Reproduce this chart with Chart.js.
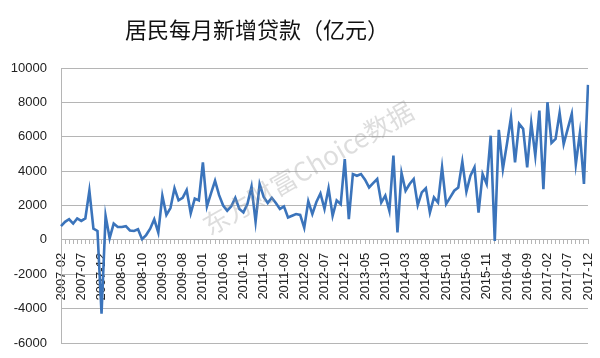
<!DOCTYPE html>
<html><head><meta charset="utf-8">
<script src="https://cdn.jsdelivr.net/npm/chart.js@4/dist/chart.umd.min.js"></script>
<style>html,body{margin:0;padding:0;background:#fff}#wrap{width:600px;height:358px;position:relative}</style>
</head><body><div id="wrap"><canvas id="c" width="600" height="358"></canvas></div>
<script>
const titleText = '居民每月新增贷款（亿元）';
const watermarkText = '东方财富Choice数据';
const startYear = 2007, startMonth = 2, monthCount = 131;
const months = [];
for (let k = 0; k < monthCount; k++) {
  const m = startMonth - 1 + k;
  const y = startYear + Math.floor(m / 12);
  const mm = (m % 12) + 1;
  months.push(y + '-' + (mm < 10 ? '0' + mm : '' + mm));
}
const labelEvery = 5;
const loans = [
  800, 1050, 1200, 950, 1250, 1100, 1250, 2860, 650, 520,
  -4300, 1400, 100, 950, 750, 750, 800, 550, 520, 620,
  40, 280, 650, 1200, 430, 2570, 1450, 1850, 3000, 2300,
  2450, 2900, 1550, 2400, 2300, 4510, 1950, 2700, 3440, 2600,
  2000, 1700, 1950, 2450, 1800, 1600, 2100, 3100, 1050, 3250,
  2500, 2150, 2450, 2150, 1800, 1950, 1300, 1400, 1500, 1450,
  700, 2250, 1500, 2200, 2700, 1800, 3000, 1400, 2300, 2080,
  4700, 1200, 3830, 3730, 3830, 3500, 3050, 3300, 3540, 2170,
  2570, 1690, 4900, 430, 3900, 2860, 3250, 3540, 2020, 2760,
  3000, 1590, 2470, 2170, 4220, 2080, 2470, 2860, 3050, 4550,
  2800, 3730, 4220, 1590, 3830, 3250, 6060, -60, 6400, 4120,
  5580, 7130, 4510, 6750, 6460, 4220, 6810, 4900, 7520, 2950,
  8010, 5640, 5870, 7390, 5580, 6460, 7330, 4410, 6220, 3250,
  9020
];
const yMin = -6000, yMax = 10000, yStep = 2000;

const overlay = {
  id: 'overlay',
  afterDraw(chart) {
    const ctx = chart.ctx;
    ctx.save();
    ctx.font = '22px "Noto Sans CJK SC"';
    ctx.fillStyle = '#111';
    ctx.textAlign = 'center';
    ctx.textBaseline = 'middle';
    ctx.fillText(titleText, 257, 30);
    ctx.restore();
    ctx.save();
    ctx.translate(308, 168);
    ctx.rotate(-30 * Math.PI / 180);
    ctx.font = '26px "Noto Sans CJK SC"';
    ctx.fillStyle = 'rgba(150,150,150,0.32)';
    ctx.textAlign = 'center';
    ctx.textBaseline = 'middle';
    ctx.fillText(watermarkText, 0, 0);
    ctx.restore();
  }
};

new Chart(document.getElementById('c'), {
  type: 'line',
  data: {
    labels: months,
    datasets: [{
      data: loans,
      borderColor: '#3b74bb',
      borderWidth: 2.6,
      pointRadius: 0,
      tension: 0,
      fill: false
    }]
  },
  options: {
    responsive: false,
    animation: false,
    devicePixelRatio: 1,
    layout: { padding: { top: 68, left: 0, right: 12, bottom: 15 } },
    plugins: { legend: { display: false }, title: { display: false }, tooltip: { enabled: false } },
    scales: {
      x: {
        type: 'category',
        position: { y: 0 },
        offset: false,
        grid: { display: true, drawOnChartArea: false, drawTicks: true, tickLength: 4, color: '#b5b5b5' },
        border: { display: true, color: '#b5b5b5' },
        ticks: {
          autoSkip: false, maxRotation: 90, minRotation: 90, padding: 9,
          font: { size: 13, family: '"Liberation Sans", Arial' }, color: '#222',
          callback: (v, i) => (i % labelEvery === 0 ? months[i] : '')
        },
        afterFit: s => { s.height = 0; s.paddingLeft = 0; s.paddingRight = 0; s.paddingTop = 0; s.paddingBottom = 0; }
      },
      y: {
        min: yMin, max: yMax,
        ticks: { stepSize: yStep, padding: 14, font: { size: 13, family: '"Liberation Sans", Arial' }, color: '#222',
          callback: v => String(v) },
        grid: { color: '#b5b5b5', drawTicks: false },
        border: { display: true, color: '#b5b5b5' },
        afterFit: s => { s.width = 61; s.paddingTop = 0; s.paddingBottom = 0; }
      }
    }
  },
  plugins: [overlay]
});
</script></body></html>
